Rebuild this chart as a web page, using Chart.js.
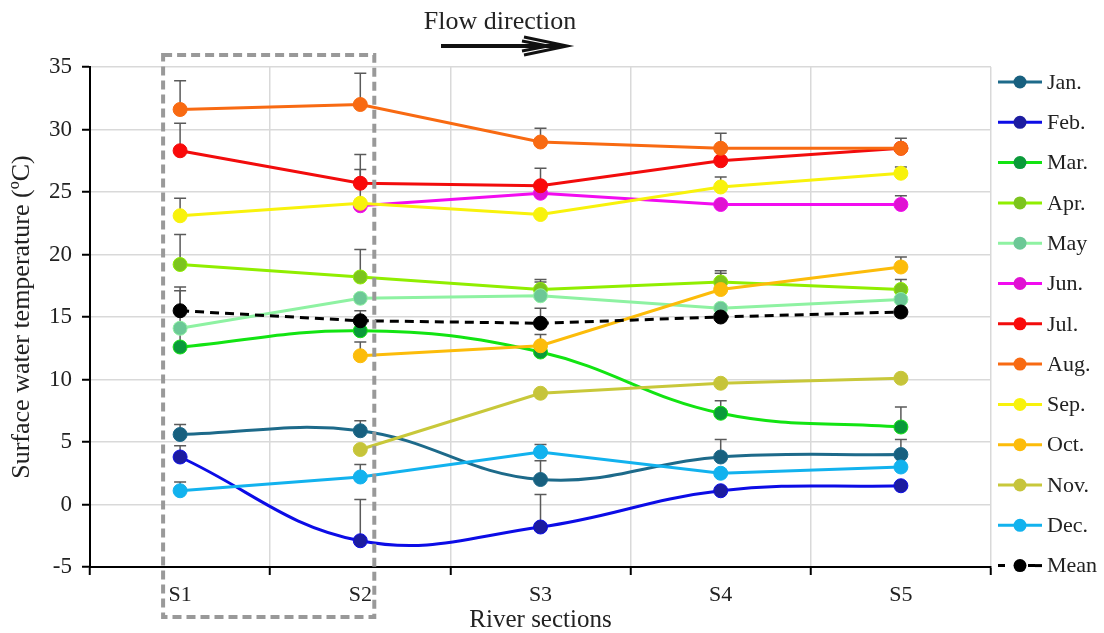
<!DOCTYPE html>
<html lang="en">
<head>
    <meta charset="UTF-8">
    <title>Surface water temperature</title>
    <style>
        body { margin: 0; background: #fff; }
        #wrap { width: 1104px; height: 633px; }
    </style>
</head>
<body>
    <div id="wrap">
        <canvas id="canvas" width="1104" height="633"></canvas>
    </div>

    <script src="https://cdn.jsdelivr.net/npm/chart.js@4.4.0/dist/chart.umd.min.js"></script>
    <script>
        // river sections
        const sections = ['S1', 'S2', 'S3', 'S4', 'S5'];

        // monthly mean temperature per section (°C)
        const jan = [5.6, 5.9, 2.0, 3.8, 4.0];
        const feb = [3.8, -2.9, -1.8, 1.1, 1.5];
        const mar = [12.6, 13.9, 12.2, 7.3, 6.2];
        const apr = [19.2, 18.2, 17.2, 17.8, 17.2];
        const may = [14.1, 16.5, 16.7, 15.7, 16.4];
        const jun = [null, 23.9, 24.9, 24.0, 24.0];
        const jul = [28.3, 25.7, 25.5, 27.5, 28.5];
        const aug = [31.6, 32.0, 29.0, 28.5, 28.5];
        const sep = [23.1, 24.1, 23.2, 25.4, 26.5];
        const oct = [null, 11.9, 12.7, 17.2, 19.0];
        const nov = [null, 4.4, 8.9, 9.7, 10.1];
        const dec = [1.1, 2.2, 4.2, 2.5, 3.0];
        const mean = [15.5, 14.7, 14.5, 15.0, 15.4];

        // standard deviations (only the upper bar is drawn)
        const janSd = [0.8, 0.8, 1.5, 1.4, 1.2];
        const febSd = [0.9, 3.3, 2.6, null, null];
        const marSd = [1.2, null, null, 1.0, 1.6];
        const aprSd = [2.4, 2.2, 0.8, 0.9, 0.8];
        const maySd = [3.0, null, 1.1, null, null];
        const junSd = [null, 2.9, null, null, 0.7];
        const julSd = [2.2, 2.3, 1.4, null, null];
        const augSd = [2.3, 2.5, 1.1, 1.2, 0.8];
        const sepSd = [1.4, null, null, 0.8, 0.5];
        const octSd = [null, 1.1, 0.9, 1.3, 0.8];
        const novSd = [null, null, null, null, null];
        const decSd = [0.7, 1.0, 0.6, null, null];
        const meanSd = [1.9, 0.8, 1.2, null, null];

        const yTicks = [-5, 0, 5, 10, 15, 20, 25, 30, 35];

        const serif = 'Liberation Serif';

        const series = [
            { label: 'Jan.', data: jan, sd: janSd, line: '#1d6a8a', dot: '#18607f', curve: true },
            { label: 'Feb.', data: feb, sd: febSd, line: '#0c0ce6', dot: '#1c1ca0', curve: true },
            { label: 'Mar.', data: mar, sd: marSd, line: '#12e412', dot: '#0a9a3a', curve: true },
            { label: 'Apr.', data: apr, sd: aprSd, line: '#90ee00', dot: '#7cc41e' },
            { label: 'May', data: may, sd: maySd, line: '#8ef2a2', dot: '#6cc896' },
            { label: 'Jun.', data: jun, sd: junSd, line: '#f20cf0', dot: '#e012d2' },
            { label: 'Jul.', data: jul, sd: julSd, line: '#f20c0c', dot: '#fa0a0a' },
            { label: 'Aug.', data: aug, sd: augSd, line: '#f86a12', dot: '#f86a12' },
            { label: 'Sep.', data: sep, sd: sepSd, line: '#f8f20c', dot: '#f8f20c' },
            { label: 'Oct.', data: oct, sd: octSd, line: '#fcbc0a', dot: '#fcbc0a' },
            { label: 'Nov.', data: nov, sd: novSd, line: '#c8c83a', dot: '#c6c43a' },
            { label: 'Dec.', data: dec, sd: decSd, line: '#12b2ee', dot: '#12b2ee' },
            { label: 'Mean', data: mean, sd: meanSd, line: '#000000', dot: '#000000', dash: true }
        ];

        const datasets = series.map(function (s, i) {
            return {
                label: s.label,
                data: s.data,
                sd: s.sd,
                borderColor: s.line,
                backgroundColor: s.dot,
                pointBackgroundColor: s.dot,
                pointBorderColor: s.line,
                pointBorderWidth: 1,
                pointRadius: 7,
                borderWidth: 3,
                borderDash: s.dash ? [9, 6] : [],
                tension: s.curve ? 0.4 : 0,
                order: series.length - i
            };
        });

        // upper error bars, drawn under the lines
        const errorBars = {
            id: 'errorBars',
            beforeDatasetsDraw(chart) {
                const ctx = chart.ctx;
                const x = chart.scales.x;
                const y = chart.scales.y;
                ctx.save();
                ctx.strokeStyle = '#5a5a5a';
                ctx.lineWidth = 1.5;
                chart.data.datasets.forEach(function (ds) {
                    ds.data.forEach(function (v, j) {
                        const sd = ds.sd[j];
                        if (v === null || sd === null) return;
                        const px = x.getPixelForValue(j);
                        const y0 = y.getPixelForValue(v);
                        const y1 = y.getPixelForValue(v + sd);
                        ctx.beginPath();
                        ctx.moveTo(px, y0);
                        ctx.lineTo(px, y1);
                        ctx.moveTo(px - 6, y1);
                        ctx.lineTo(px + 6, y1);
                        ctx.stroke();
                    });
                });
                ctx.restore();
            }
        };

        // legend, dashed box and flow arrow
        const extras = {
            id: 'extras',
            afterDraw(chart) {
                const ctx = chart.ctx;
                const area = chart.chartArea;
                const x = chart.scales.x;

                // legend at the right
                ctx.save();
                ctx.font = '22px "' + serif + '"';
                ctx.textBaseline = 'middle';
                chart.data.datasets.forEach(function (ds, i) {
                    const yy = 82 + i * 40.3;
                    const x0 = area.right + 7;
                    const x1 = x0 + 44;
                    ctx.strokeStyle = ds.borderColor;
                    ctx.lineWidth = 3;
                    ctx.setLineDash(ds.borderDash.length ? [7, 23] : []);
                    ctx.beginPath();
                    ctx.moveTo(x0, yy);
                    ctx.lineTo(x1, yy);
                    ctx.stroke();
                    if (ds.borderDash.length) {
                        ctx.setLineDash([]);
                        ctx.beginPath();
                        ctx.moveTo(x1 - 7, yy);
                        ctx.lineTo(x1, yy);
                        ctx.stroke();
                    }
                    ctx.setLineDash([]);
                    ctx.fillStyle = ds.pointBackgroundColor;
                    ctx.beginPath();
                    ctx.arc((x0 + x1) / 2, yy, 6.5, 0, Math.PI * 2);
                    ctx.fill();
                    ctx.fillStyle = '#222';
                    ctx.fillText(ds.label, x1 + 5, yy + 1);
                });

                // dashed box around S1 and S2
                const bx0 = x.getPixelForValue(0) - 17;
                const bx1 = x.getPixelForValue(1) + 14;
                ctx.strokeStyle = '#999';
                ctx.lineWidth = 4;
                ctx.setLineDash([9, 5]);
                ctx.strokeRect(bx0, 55, bx1 - bx0, 562);
                ctx.setLineDash([]);

                // flow direction
                ctx.fillStyle = '#222';
                ctx.font = '26px "' + serif + '"';
                ctx.textAlign = 'center';
                ctx.textBaseline = 'alphabetic';
                ctx.fillText('Flow direction', 500, 29);
                ctx.strokeStyle = '#111';
                ctx.lineWidth = 4;
                ctx.beginPath();
                ctx.moveTo(441, 46);
                ctx.lineTo(560, 46);
                ctx.stroke();
                ctx.lineWidth = 3;
                ctx.beginPath();
                ctx.moveTo(524, 37);
                ctx.lineTo(567, 46);
                ctx.lineTo(524, 55);
                ctx.stroke();
                ctx.beginPath();
                ctx.moveTo(522, 41);
                ctx.lineTo(548, 46);
                ctx.lineTo(522, 51);
                ctx.stroke();
                ctx.restore();
            }
        };

        const ctx = document.getElementById('canvas').getContext('2d');
        const myChart = new Chart(ctx, {
            type: 'line',
            data: {
                labels: sections,
                datasets: datasets
            },
            options: {
                responsive: false,
                animation: false,
                devicePixelRatio: 1,
                layout: {
                    padding: { top: 67, right: 113, left: 0, bottom: 0 }
                },
                plugins: {
                    legend: { display: false },
                    tooltip: { enabled: false }
                },
                scales: {
                    x: {
                        offset: true,
                        grid: {
                            offset: true,
                            color: '#d9d9d9',
                            lineWidth: 1.5,
                            tickColor: '#000',
                            tickLength: 8,
                            tickWidth: 2
                        },
                        border: { color: '#000', width: 2 },
                        ticks: {
                            color: '#222',
                            padding: 7,
                            font: { family: serif, size: 22 }
                        },
                        title: {
                            display: true,
                            text: 'River sections',
                            color: '#222',
                            padding: { top: 0, bottom: 0 },
                            font: { family: serif, size: 25, lineHeight: 1 }
                        },
                        afterFit(scale) { scale.height = 66; }
                    },
                    y: {
                        min: -5,
                        max: 35,
                        afterBuildTicks(scale) {
                            scale.ticks = yTicks.map(function (v) { return { value: v }; });
                        },
                        grid: {
                            color: '#d9d9d9',
                            lineWidth: 1.5,
                            tickColor: '#000',
                            tickLength: 8,
                            tickWidth: 2
                        },
                        border: { color: '#000', width: 2 },
                        ticks: {
                            color: '#222',
                            padding: 10,
                            font: { family: serif, size: 23 }
                        },
                        title: {
                            display: true,
                            text: 'Surface water temperature (ºC)',
                            color: '#222',
                            padding: { top: 7, bottom: 0 },
                            font: { family: serif, size: 26 }
                        },
                        afterFit(scale) { scale.width = 90; }
                    }
                }
            },
            plugins: [errorBars, extras]
        });
    </script>
</body>
</html>
